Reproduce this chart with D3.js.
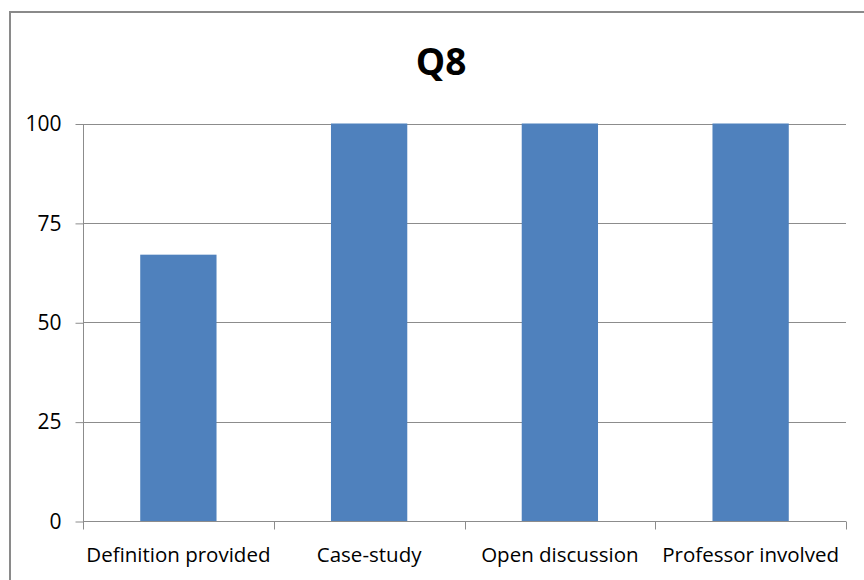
<!DOCTYPE html>
<html>
<head>
<meta charset="utf-8">
<script src="https://cdn.jsdelivr.net/npm/d3@7"></script>
<style>
  html, body { margin: 0; padding: 0; background: #fff; }
  svg { display: block; }
  text { font-family: "Open Sans", "Noto Sans", sans-serif; fill: #000; }
</style>
</head>
<body>
<svg id="chart" width="864" height="580"></svg>
<script>
// Survey results for question 8
const title = "Q8";
const categories = ["Definition provided", "Case-study", "Open discussion", "Professor involved"];
const values = [67, 100, 100, 100];
const yTicks = [0, 25, 50, 75, 100];

const svg = d3.select("#chart");
const W = 864, H = 580;
const plot = { left: 83, right: 846, top: 123.5, bottom: 521 };

// chart area frame
svg.append("rect")
  .attr("x", 10).attr("y", 12)
  .attr("width", W).attr("height", H)
  .attr("fill", "#fff")
  .attr("stroke", "#8a8a8a")
  .attr("stroke-width", 2);

const x = d3.scaleBand()
  .domain(categories)
  .range([plot.left, plot.right])
  .paddingInner(0.6)
  .paddingOuter(0.3);

const y = d3.scaleLinear()
  .domain([0, 100])
  .range([plot.bottom, plot.top]);

// horizontal gridlines
svg.append("g")
  .selectAll("line")
  .data(yTicks.filter(t => t > 0))
  .join("line")
  .attr("x1", plot.left).attr("x2", plot.right)
  .attr("y1", d => Math.round(y(d)) + 0.5).attr("y2", d => Math.round(y(d)) + 0.5)
  .attr("stroke", "#8c8c8c")
  .attr("stroke-width", 1);

// bars
svg.append("g")
  .selectAll("rect")
  .data(values)
  .join("rect")
  .attr("x", (d, i) => x(categories[i]))
  .attr("y", d => y(d))
  .attr("width", x.bandwidth())
  .attr("height", d => y(0) - y(d))
  .attr("fill", "#4f81bd");

// y axis
const yAxis = d3.axisLeft(y)
  .tickValues(yTicks)
  .tickSize(8)
  .tickPadding(14)
  .tickFormat(d3.format("d"));

const gy = svg.append("g")
  .attr("transform", `translate(${plot.left + 0.5},0.5)`)
  .call(yAxis);
gy.select(".domain").attr("stroke", "#8c8c8c").attr("d", `M0,${plot.bottom}V${plot.top}`);
gy.selectAll(".tick line").attr("stroke", "#8c8c8c");
gy.selectAll(".tick text")
  .style("font-size", "21px")
  .attr("fill", "#000");

// x axis with boundary ticks between categories
const xAxis = d3.axisBottom(x).tickSize(0).tickPadding(26);
const gx = svg.append("g")
  .attr("transform", `translate(0,${Math.round(plot.bottom) + 0.5})`)
  .call(xAxis);
gx.select(".domain").attr("stroke", "#8c8c8c").attr("d", `M${plot.left},0H${plot.right}`);
gx.selectAll(".tick text")
  .style("font-size", "20.5px")
  .attr("fill", "#000");

const boundaries = d3.range(categories.length + 1).map(i => plot.left + i * x.step());
gx.append("g")
  .selectAll("line")
  .data(boundaries)
  .join("line")
  .attr("x1", d => Math.round(d) + 0.5).attr("x2", d => Math.round(d) + 0.5)
  .attr("y1", 0).attr("y2", 8)
  .attr("stroke", "#8c8c8c");

// title
svg.append("text")
  .attr("x", 441)
  .attr("y", 75)
  .attr("text-anchor", "middle")
  .style("font-size", "37px")
  .style("font-weight", "bold")
  .text(title);
</script>
</body>
</html>
